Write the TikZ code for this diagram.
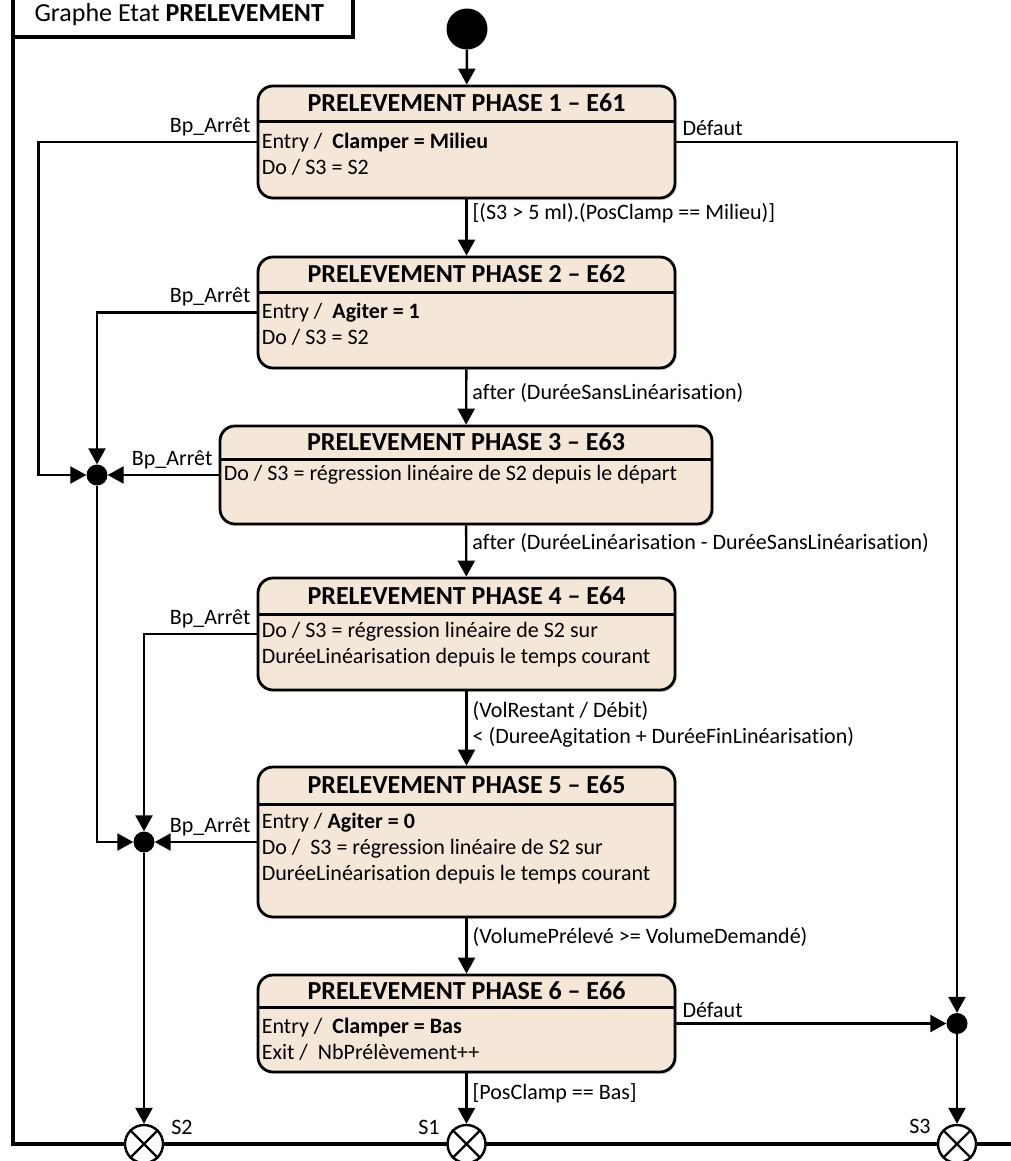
\documentclass[tikz,border=0pt]{standalone}
\usepackage{fontspec}
\setmainfont{Carlito}[Ligatures=NoCommon]
\usetikzlibrary{arrows.meta,shadows}
\definecolor{beige}{RGB}{245,231,216}
\begin{document}
\begin{tikzpicture}[x=1pt,y=-1pt,font=\fontsize{22}{26}\selectfont,
  st/.style={draw,line width=2.8pt,fill=beige,rounded corners=15pt,minimum width=417pt,inner sep=0pt,
    drop shadow={shadow xshift=2pt,shadow yshift=-2pt,opacity=0.25}},
  sep/.style={line width=2.4pt},
  ttl/.style={font=\fontsize{26}{28}\selectfont\bfseries,inner sep=0pt},
  bd/.style={align=left,anchor=west,inner sep=0pt},
  jn/.style={circle,fill=black,minimum size=21pt,inner sep=0pt},
  ini/.style={circle,fill=black,minimum size=41pt,inner sep=0pt},
  ex/.style={circle,draw,line width=2.4pt,fill=white,minimum size=38pt,inner sep=0pt},
  arr/.style={line width=2.4pt,-{Triangle[length=16pt,width=17pt]}},
  lbl/.style={inner sep=5pt},
  frame/.style={line width=4pt}]
\useasboundingbox (0,0) rectangle (1011,1161);
% cadre
\draw[frame] (13,-10) -- (13,1144) -- (1020,1144);
\draw[frame,fill=white] (13,-10) rectangle (353,37);
\node[anchor=west,font=\fontsize{26}{28}\selectfont] (gt) at (31,15) {Graphe Etat \textbf{PRELEVEMENT}};
% etats
\node[ini] (i0) at (467,29) {};
\node[st,minimum height=112pt] (s1) at (466.5,142) {};
\node[st,minimum height=111pt] (s2) at (466.5,312.5) {};
\node[st,minimum height=98pt,minimum width=492pt] (s3) at (466,475) {};
\node[st,minimum height=112pt] (s4) at (466.5,634) {};
\node[st,minimum height=150pt] (s5) at (466.5,842) {};
\node[st,minimum height=97pt] (s6) at (466.5,1023.5) {};
\draw[sep] ([yshift=-37pt]s1.north west) -- ([yshift=-37pt]s1.north east);
\draw[sep] ([yshift=-37pt]s2.north west) -- ([yshift=-37pt]s2.north east);
\draw[sep] ([yshift=-35pt]s3.north west) -- ([yshift=-35pt]s3.north east);
\draw[sep] ([yshift=-38pt]s4.north west) -- ([yshift=-38pt]s4.north east);
\draw[sep] ([yshift=-39pt]s5.north west) -- ([yshift=-39pt]s5.north east);
\draw[sep] ([yshift=-34pt]s6.north west) -- ([yshift=-34pt]s6.north east);
\node[ttl] (t1) at ([yshift=-18.5pt]s1.north) {PRELEVEMENT PHASE 1 – E61};
\node[ttl] (t2) at ([yshift=-18.5pt]s2.north) {PRELEVEMENT PHASE 2 – E62};
\node[ttl] (t3) at ([yshift=-17.5pt]s3.north) {PRELEVEMENT PHASE 3 – E63};
\node[ttl] (t4) at ([yshift=-19pt]s4.north) {PRELEVEMENT PHASE 4 – E64};
\node[ttl] (t5) at ([yshift=-19.5pt]s5.north) {PRELEVEMENT PHASE 5 – E65};
\node[ttl] (t6) at ([yshift=-17pt]s6.north) {PRELEVEMENT PHASE 6 – E66};
\node[bd] (b1) at ([xshift=5pt,yshift=-69.5pt]s1.north west) {Entry /\ \ \textbf{Clamper = Milieu}\\Do / S3 = S2};
\node[bd] (b2) at ([xshift=5pt,yshift=-68.5pt]s2.north west) {Entry /\ \ \textbf{Agiter = 1}\\Do / S3 = S2};
\node[bd] (b3) at ([xshift=5pt,yshift=-50pt]s3.north west) {Do / S3 = régression linéaire de S2 depuis le départ};
\node[bd] (b4) at ([xshift=5pt,yshift=-68pt]s4.north west) {Do / S3 = régression linéaire de S2 sur\\DuréeLinéarisation depuis le temps courant};
\node[bd] (b5) at ([xshift=5pt,yshift=-82.5pt]s5.north west) {Entry / \textbf{Agiter = 0}\\Do /\ \ S3 = régression linéaire de S2 sur\\DuréeLinéarisation depuis le temps courant};
\node[bd] (b6) at ([xshift=5pt,yshift=-66pt]s6.north west) {Entry /\ \ \textbf{Clamper = Bas}\\Exit /\ \ NbPrélèvement++};
% jonctions et sorties
\node[jn] (j1) at (97,475) {};
\node[jn] (j2) at (144,842) {};
\node[jn] (j3) at (957,1023.5) {};
\node[ex] (x2) at (144,1144) {};
\node[ex] (x1) at (466.5,1144) {};
\node[ex] (x3) at (957,1144) {};
\foreach \x in {x1,x2,x3}
  \draw[line width=2.4pt] (\x.north west) -- (\x.south east) (\x.north east) -- (\x.south west);
\node (l2) at (182,1127) {S2};
\node (l1) at (429,1127) {S1};
\node (l3) at (920,1126) {S3};
% transitions
\draw[arr] (i0) -- (s1);
\draw[arr] (s1) -- node[lbl,right,pos=0.25]{[(S3 > 5 ml).(PosClamp == Milieu)]} (s2);
\draw[arr] (s2) -- node[lbl,right,pos=0.43]{after (DuréeSansLinéarisation)} (s3);
\draw[arr] (s3) -- node[lbl,right,pos=0.35]{after (DuréeLinéarisation - DuréeSansLinéarisation)} (s4);
\draw[arr] (s4) -- node[lbl,right,pos=0.44,align=left]{(VolRestant / Débit)\\< (DureeAgitation + DuréeFinLinéarisation)} (s5);
\draw[arr] (s5) -- node[lbl,right,pos=0.34]{(VolumePrélevé >= VolumeDemandé)} (s6);
\draw[arr] (s6) -- node[lbl,right,pos=0.4]{[PosClamp == Bas]} (x1);
\draw[arr] (s1.west) node[lbl,above left]{Bp\_Arrêt} -- ++(-218,0) |- (j1);
\draw[arr] (s2.west) node[lbl,above left]{Bp\_Arrêt} -| (j1);
\draw[arr] (s3.west) node[lbl,above left]{Bp\_Arrêt} -- (j1);
\draw[arr] (j1) |- (j2);
\draw[arr] (s4.west) node[lbl,above left]{Bp\_Arrêt} -| (j2);
\draw[arr] (s5.west) node[lbl,above left]{Bp\_Arrêt} -- (j2);
\draw[arr] (j2) -- (x2);
\draw[arr] (s1.east) node[lbl,above right]{Défaut} -| (j3);
\draw[arr] (s6.east) node[lbl,above right]{Défaut} -- (j3);
\draw[arr] (j3) -- (x3);
\end{tikzpicture}
\end{document}
